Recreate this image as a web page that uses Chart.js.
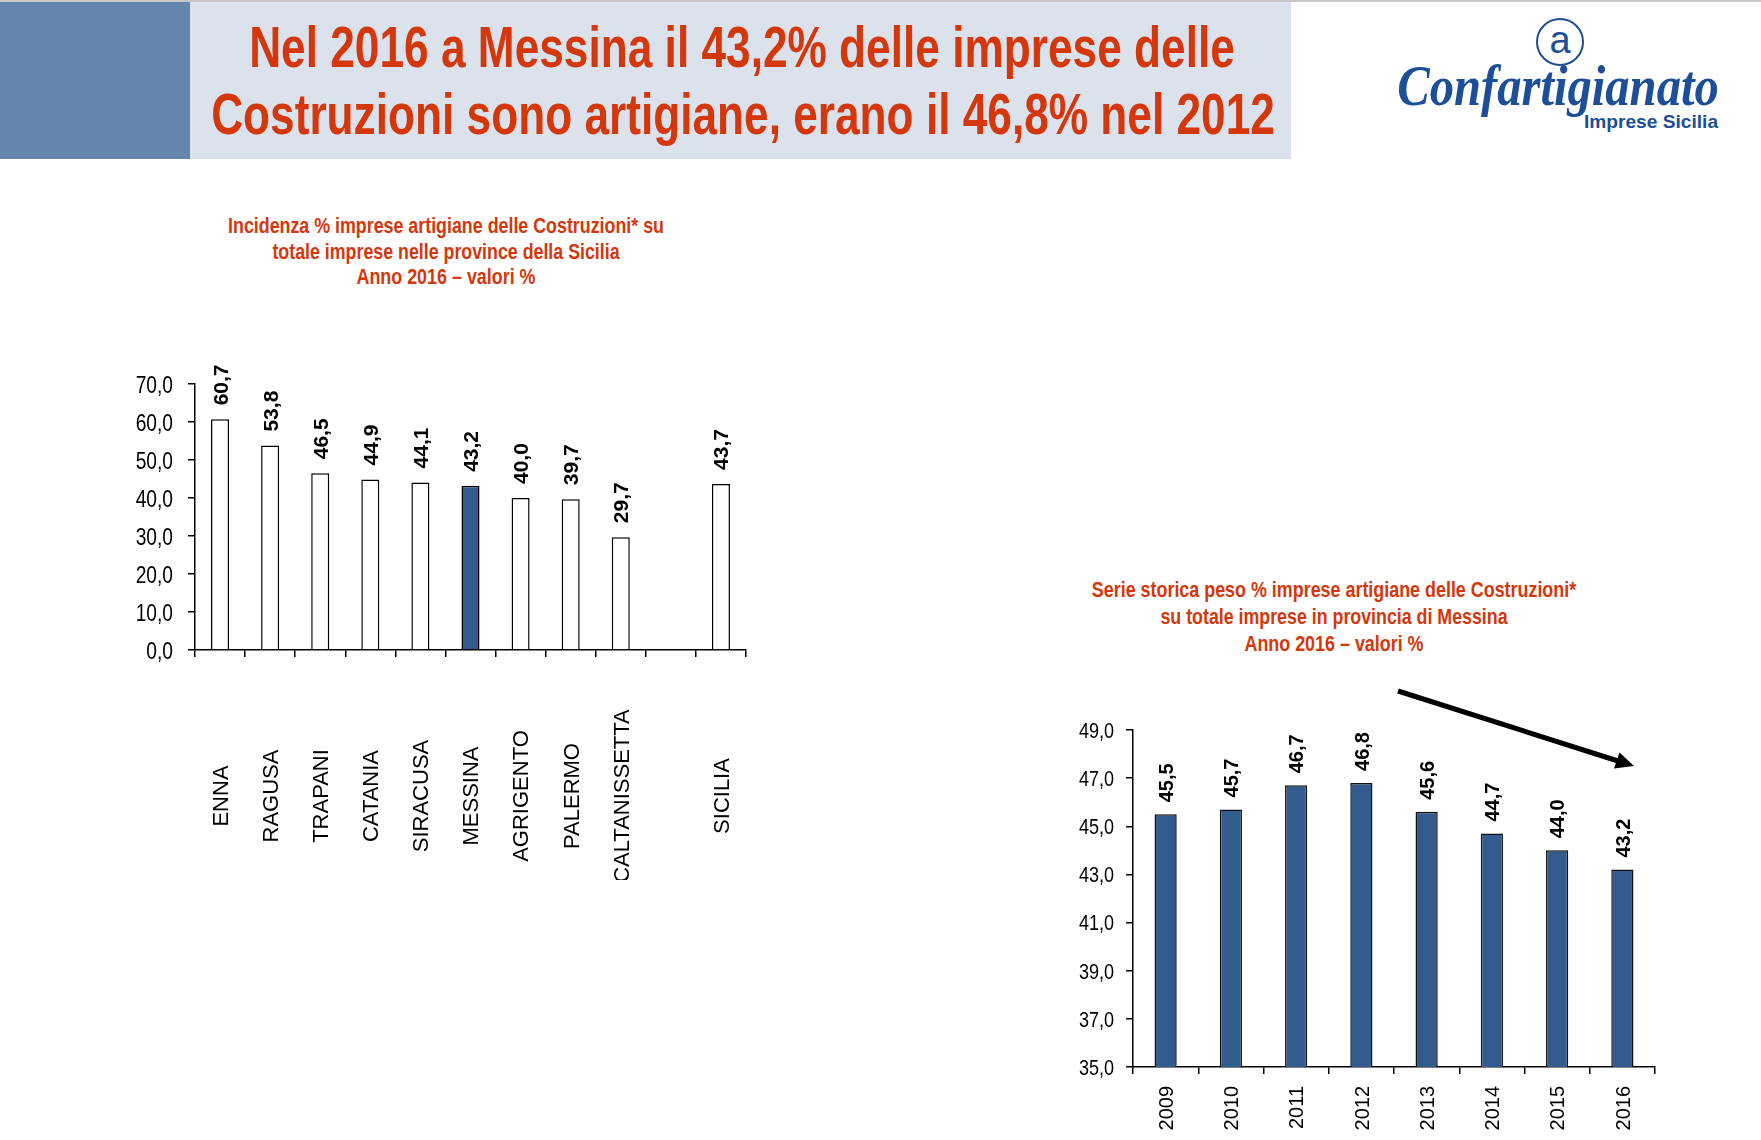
<!DOCTYPE html>
<html>
<head>
<meta charset="utf-8">
<script src="https://cdn.jsdelivr.net/npm/chart.js@4.4.1/dist/chart.umd.min.js"></script>
<style>
html,body{margin:0;padding:0;background:#fff;}
body{width:1761px;height:1140px;overflow:hidden;position:relative;font-family:'Liberation Sans',Arial,sans-serif;}
#topline{position:absolute;left:0;top:0;width:1761px;height:2px;background:#c9c9c9;}
#blueblock{position:absolute;left:0;top:2px;width:190px;height:157px;background:#6586ac;}
#panel{position:absolute;left:190px;top:2px;width:1101px;height:157px;background:#dbe2ec;}
.fit{position:absolute;white-space:nowrap;line-height:1;transform-origin:50% 50%;}
.h1{font-weight:bold;font-size:57px;color:#d4370c;}
.sub{font-weight:bold;font-size:22px;color:#d4370c;}
#logoCircle{position:absolute;left:1536px;top:18px;width:44px;height:44px;border:2.5px solid #1d4f98;border-radius:50%;color:#1d4f98;font-size:38px;line-height:40px;text-align:center;font-family:'Liberation Sans',Arial,sans-serif;}
.logo1{font-family:'Liberation Serif','DejaVu Serif',serif;font-style:italic;font-weight:bold;font-size:58px;color:#1d4f98;}
.logo2{font-weight:bold;font-size:19px;color:#1d4f98;}
canvas{position:absolute;}
#c1{left:100px;top:320px;}
#c2{left:1030px;top:680px;}
#arrow{position:absolute;left:0;top:0;}
</style>
</head>
<body>
<div id="topline"></div>
<div id="blueblock"></div>
<div id="panel"></div>
<div class="fit h1" data-cx="742" data-cy="47" data-w="986">Nel 2016 a Messina il 43,2% delle imprese delle</div>
<div class="fit h1" data-cx="743" data-cy="114" data-w="1064">Costruzioni sono artigiane, erano il 46,8% nel 2012</div>

<div id="logoCircle">a</div>
<div class="fit logo1" data-cx="1558" data-cy="86" data-w="322">Confartigianato</div>
<div class="fit logo2" data-cx="1651" data-cy="121" data-w="134">Imprese Sicilia</div>

<div class="fit sub" data-cx="446" data-cy="226" data-w="436">Incidenza % imprese artigiane delle Costruzioni* su</div>
<div class="fit sub" data-cx="446" data-cy="252" data-w="347">totale imprese nelle province della Sicilia</div>
<div class="fit sub" data-cx="446" data-cy="277" data-w="179">Anno 2016 – valori %</div>

<div class="fit sub" data-cx="1334" data-cy="590" data-w="484">Serie storica peso % imprese artigiane delle Costruzioni*</div>
<div class="fit sub" data-cx="1334" data-cy="617" data-w="347">su totale imprese in provincia di Messina</div>
<div class="fit sub" data-cx="1334" data-cy="644" data-w="179">Anno 2016 – valori %</div>

<canvas id="c1" width="680" height="560"></canvas>
<canvas id="c2" width="660" height="460"></canvas>

<svg id="arrow" width="1761" height="1140">
  <line x1="1398" y1="691" x2="1618" y2="761" stroke="#000" stroke-width="5"/>
  <polygon points="1634,766 1614,768.5 1619.5,752.5" fill="#000"/>
</svg>

<script>
// ---------- DATA ----------
const provinceLabels = ['ENNA','RAGUSA','TRAPANI','CATANIA','SIRACUSA','MESSINA','AGRIGENTO','PALERMO','CALTANISSETTA','','SICILIA'];
const provinceValues = [60.7, 53.8, 46.5, 44.9, 44.1, 43.2, 40.0, 39.7, 29.7, null, 43.7];
const provinceTicks = [0, 10, 20, 30, 40, 50, 60, 70];
const highlightedProvince = 'MESSINA';

const yearLabels = ['2009','2010','2011','2012','2013','2014','2015','2016'];
const messinaValues = [45.5, 45.7, 46.7, 46.8, 45.6, 44.7, 44.0, 43.2];
const messinaTicks = [35, 37, 39, 41, 43, 45, 47, 49];

// ---------- TEXT FITTING ----------
document.querySelectorAll('.fit').forEach(el => {
  const w = el.offsetWidth;
  const s = parseFloat(el.dataset.w) / w;
  el.style.left = el.dataset.cx + 'px';
  el.style.top = el.dataset.cy + 'px';
  el.style.transform = 'translate(-50%,-50%) scaleX(' + s + ')';
});

// ---------- CHARTS ----------
const SANS = "'Liberation Sans',Arial,sans-serif";
const fmt = v => Number(v).toFixed(1).replace('.', ',');

const valueLabels = {
  id: 'valueLabels',
  afterDatasetsDraw(chart, args, o) {
    const ctx = chart.ctx;
    const meta = chart.getDatasetMeta(0);
    const data = chart.data.datasets[0].data;
    ctx.save();
    ctx.font = 'bold ' + o.size + 'px ' + SANS;
    ctx.fillStyle = '#000';
    ctx.textAlign = 'left';
    ctx.textBaseline = 'alphabetic';
    meta.data.forEach((bar, i) => {
      const v = data[i];
      if (v === null || v === undefined) return;
      ctx.save();
      ctx.translate(bar.x, bar.y - o.gap);
      ctx.rotate(-Math.PI / 2);
      ctx.scale(1, o.squeeze);
      ctx.fillText(fmt(v), 0, o.size * 0.716 / 2);
      ctx.restore();
    });
    ctx.restore();
  }
};

const catLabels = {
  id: 'catLabels',
  afterDraw(chart, args, o) {
    const ctx = chart.ctx;
    const xs = chart.scales.x;
    ctx.save();
    ctx.font = (o.weight || 'normal') + ' ' + o.size + 'px ' + SANS;
    ctx.fillStyle = '#000';
    ctx.textAlign = o.align;
    ctx.textBaseline = 'alphabetic';
    chart.data.labels.forEach((lab, i) => {
      if (!lab) return;
      const x = xs.getPixelForValue(i);
      ctx.save();
      ctx.translate(x, o.y);
      ctx.rotate(-Math.PI / 2);
      ctx.scale(1, o.squeeze);
      ctx.fillText(lab, 0, o.size * 0.716 / 2);
      ctx.restore();
    });
    ctx.restore();
  }
};

// y tick labels drawn in a condensed style (horizontal squeeze)
const yLabels = {
  id: 'yLabels',
  afterDraw(chart, args, o) {
    const ctx = chart.ctx;
    const ys = chart.scales.y;
    const right = chart.chartArea.left - o.gap;
    ctx.save();
    ctx.font = o.size + 'px ' + SANS;
    ctx.fillStyle = '#000';
    ctx.textAlign = 'right';
    ctx.textBaseline = 'alphabetic';
    ys.ticks.forEach(t => {
      const y = ys.getPixelForValue(t.value);
      ctx.save();
      ctx.translate(right, y);
      ctx.scale(o.sx, 1);
      ctx.fillText(fmt(t.value), 0, o.size * 0.716 / 2);
      ctx.restore();
    });
    ctx.restore();
  }
};

function axisOpts(ticksArr, width) {
  return {
    min: ticksArr[0],
    max: ticksArr[ticksArr.length - 1],
    ticks: { stepSize: ticksArr[1] - ticksArr[0], callback: v => fmt(v), color: 'rgba(0,0,0,0)' },
    grid: { drawOnChartArea: false, drawTicks: true, tickLength: 7, color: '#000', lineWidth: 1.5 },
    border: { display: true, color: '#000', width: 1.5 },
    afterFit: s => { s.width = width; }
  };
}

function xOpts(height) {
  return {
    offset: true,
    grid: { offset: true, drawOnChartArea: false, drawTicks: true, tickLength: 7, color: '#000', lineWidth: 1.5 },
    border: { display: true, color: '#000', width: 1.5 },
    ticks: { color: 'rgba(0,0,0,0)', maxRotation: 0, minRotation: 0, autoSkip: false },
    afterFit: s => { s.height = height; }
  };
}

new Chart(document.getElementById('c1'), {
  type: 'bar',
  data: {
    labels: provinceLabels,
    datasets: [{
      data: provinceValues,
      backgroundColor: provinceLabels.map(l => l === highlightedProvince ? '#345b8e' : '#ffffff'),
      borderColor: '#000',
      borderWidth: 1.5,
      barPercentage: 0.36,
      categoryPercentage: 1
    }]
  },
  options: {
    responsive: false, animation: false, devicePixelRatio: 1,
    layout: { padding: { top: 64, right: 34, left: 0, bottom: 0 } },
    plugins: {
      legend: { display: false }, tooltip: { enabled: false },
      valueLabels: { size: 21, gap: 14, squeeze: 1 },
      catLabels: { size: 22, y: 476, align: 'center', squeeze: 1 },
      yLabels: { size: 24, gap: 22, sx: 0.8 }
    },
    scales: { x: xOpts(230), y: axisOpts(provinceTicks, 95) }
  },
  plugins: [valueLabels, catLabels, yLabels]
});

new Chart(document.getElementById('c2'), {
  type: 'bar',
  data: {
    labels: yearLabels,
    datasets: [{
      data: messinaValues,
      backgroundColor: '#345b8e',
      borderColor: '#111',
      borderWidth: 1.5,
      barPercentage: 0.34,
      categoryPercentage: 1
    }]
  },
  options: {
    responsive: false, animation: false, devicePixelRatio: 1,
    layout: { padding: { top: 50, right: 35, left: 0, bottom: 0 } },
    plugins: {
      legend: { display: false }, tooltip: { enabled: false },
      valueLabels: { size: 20, gap: 12, squeeze: 1 },
      catLabels: { size: 20, y: 406, align: 'right', squeeze: 1 },
      yLabels: { size: 22, gap: 19, sx: 0.82 }
    },
    scales: { x: xOpts(73), y: axisOpts(messinaTicks, 103) }
  },
  plugins: [valueLabels, catLabels, yLabels]
});
</script>
</body>
</html>
